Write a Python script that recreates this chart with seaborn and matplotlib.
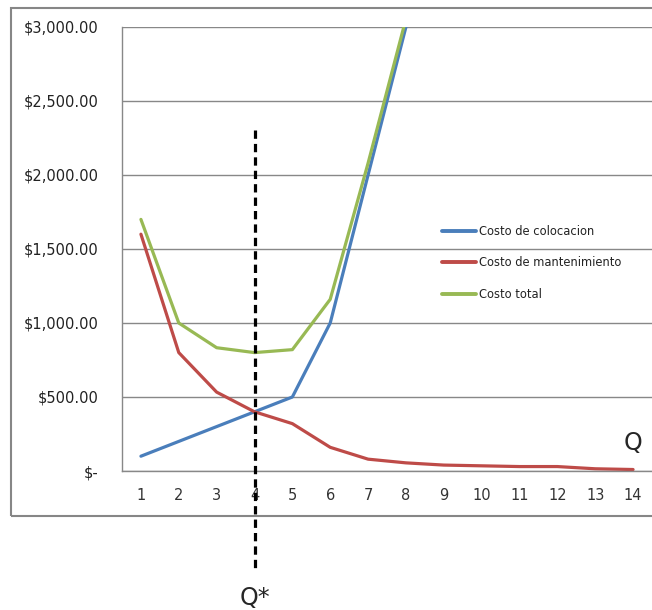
import numpy as np
import pandas as pd
import matplotlib
matplotlib.use("Agg")
import matplotlib.pyplot as plt
import seaborn as sns
from matplotlib.ticker import FuncFormatter, MultipleLocator, FixedLocator
from matplotlib.patches import Rectangle

# Data
q = list(range(1, 15))
costo_colocacion = [100, 200, 300, 400, 500, 1000, 2000, 3000,
                    np.nan, np.nan, np.nan, np.nan, np.nan, np.nan]
costo_mantenimiento = [1600, 800, 533, 400, 320, 160, 80, 55, 40, 35, 30, 30, 15, 10]
costo_total = [1700, 1000, 833, 800, 820, 1160, 2080, 3055,
               np.nan, np.nan, np.nan, np.nan, np.nan, np.nan]
series_names = ["Costo de colocacion", "Costo de mantenimiento", "Costo total"]
series_colors = ["#4A7EBB", "#BE4B48", "#98B954"]

# Long table for seaborn
df = pd.concat([
    pd.DataFrame({"Q": q, "Costo": vals, "Serie": name})
    for name, vals in zip(series_names, [costo_colocacion, costo_mantenimiento, costo_total])
], ignore_index=True)

# Optimal Q: where placement cost meets holding cost
q_star = next(x for x, c, m in zip(q, costo_colocacion, costo_mantenimiento) if c >= m)

sns.set_style("white")
plt.rcParams["font.family"] = ["DejaVu Sans"]

fig = plt.figure(figsize=(6.52, 6.10), dpi=100)
ax = fig.add_axes([122 / 652, 1 - 471 / 610, 1 - 122 / 652, 444 / 610])

# Outer chart border
fig.patches.append(Rectangle((11 / 652, 1 - 516 / 610), 1.0, 508 / 610,
                             transform=fig.transFigure, fill=False,
                             edgecolor="#868686", linewidth=1.5))

sns.lineplot(data=df, x="Q", y="Costo", hue="Serie", palette=series_colors,
             linewidth=2.3, ax=ax)

ax.set_xlim(0.5, 14.5)
ax.set_ylim(0, 3000)
ax.yaxis.set_major_locator(MultipleLocator(500))
ax.yaxis.set_major_formatter(FuncFormatter(lambda v, p: "$-" if v == 0 else "${:,.2f}".format(v)))
ax.grid(axis="y", color="#888888", linewidth=1)
ax.set_axisbelow(True)

ax.xaxis.set_major_locator(FixedLocator(q))
ax.xaxis.set_minor_locator(FixedLocator([x - 0.5 for x in q] + [q[-1] + 0.5]))
ax.tick_params(axis="x", which="major", length=0, pad=12, labelsize=10.5, labelcolor="#333333")
ax.tick_params(axis="x", which="minor", length=5, width=1, color="#888888", direction="out")
ax.tick_params(axis="y", length=5, width=1, color="#888888", direction="out", pad=12,
               labelsize=10.5, labelcolor="#222222")
ax.set_xlabel("")
ax.set_ylabel("")

for side in ["top", "right"]:
    ax.spines[side].set_visible(False)
for side in ["left", "bottom"]:
    ax.spines[side].set_color("#888888")
    ax.spines[side].set_linewidth(1)

# Dashed marker at Q*
ax.plot([q_star, q_star], [2305, -680], color="black", linewidth=2.3,
        linestyle=(0, (2.6, 1.6)), clip_on=False, zorder=5)
ax.text(q_star, -855, "Q*", ha="center", va="center", fontsize=17)
ax.text(q[-1], 190, "Q", ha="center", va="center", fontsize=17)

leg = ax.legend(frameon=False, loc="upper left",
                bbox_to_anchor=(436 / 652, 1 - 219 / 610), bbox_transform=fig.transFigure,
                handlelength=3.0, handletextpad=0.25, labelspacing=1.62, borderpad=0,
                fontsize=8.3)
for text in leg.get_texts():
    text.set_color("#222222")
for line in leg.get_lines():
    line.set_linewidth(2.8)

fig.savefig("out.png", dpi=100)
